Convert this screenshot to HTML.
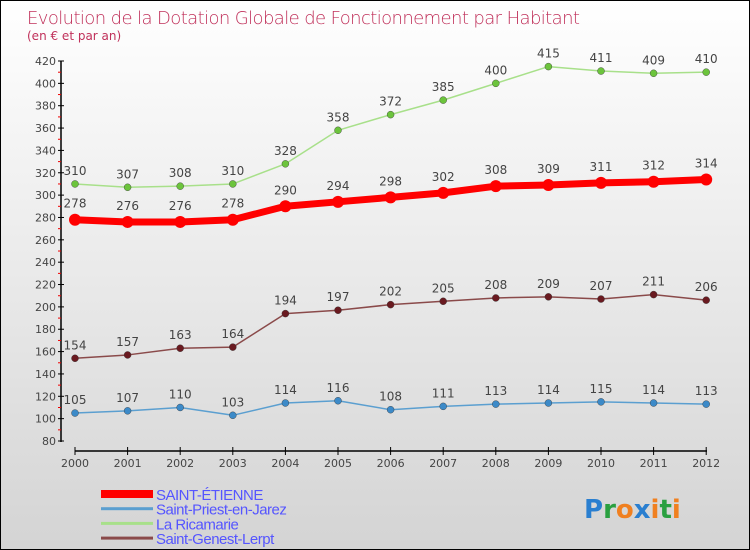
<!DOCTYPE html>
<html><head><meta charset="utf-8"><style>
body{margin:0}
#c{width:748px;height:548px;border:1px solid #000;background:linear-gradient(#fff,#d4d4d4);position:relative;overflow:hidden;font-family:"DejaVu Sans","Liberation Sans",sans-serif}
</style></head><body>
<div id="c">
<svg id="s" width="748" height="548">
<text x="26" y="23" font-size="18" fill="#c0305a" style="font-family:'DejaVu Sans',sans-serif;font-weight:200;letter-spacing:-0.6px">Evolution de la Dotation Globale de Fonctionnement par Habitant</text>
<text x="26" y="39" font-size="12" fill="#c0305a">(en € et par an)</text>
</svg>
</div>
<script>
const years=["2000","2001","2002","2003","2004","2005","2006","2007","2008","2009","2010","2011","2012"];
const yTicks=[80,100,120,140,160,180,200,220,240,260,280,300,320,340,360,380,400,420];
const stEtienne=[278,276,276,278,290,294,298,302,308,309,311,312,314];
const stPriest=[105,107,110,103,114,116,108,111,113,114,115,114,113];
const ricamarie=[310,307,308,310,328,358,372,385,400,415,411,409,410];
const stGenest=[154,157,163,164,194,197,202,205,208,209,207,211,206];
const series=[
 {name:"SAINT-ÉTIENNE",v:stEtienne,c:"#ff0000",w:7,r:6,key:"saint-etienne"},
 {name:"Saint-Priest-en-Jarez",v:stPriest,c:"#5b9fd0",w:1.5,r:3.5,key:"saint-priest-en-jarez",mc:"#3c8ac8"},
 {name:"La Ricamarie",v:ricamarie,c:"#a8e08a",w:1.5,r:3.5,key:"la-ricamarie",mc:"#6cc43c"},
 {name:"Saint-Genest-Lerpt",v:stGenest,c:"#8a4a4a",w:1.5,r:3.5,key:"saint-genest-lerpt",mc:"#6a1a20"}];
const NS="http://www.w3.org/2000/svg",s=document.getElementById('s');
const X=i=>74+i*52.6, Y=v=>440-(v-80)*380/340;
function el(t,a,p){const e=document.createElementNS(NS,t);for(const k in a)e.setAttribute(k,a[k]);(p||s).appendChild(e);return e;}
let ax=el('line',{x1:60,y1:Y(420),x2:60,y2:441,stroke:'#000','stroke-width':1.5});

yTicks.forEach(t=>{const y=Y(t);
 el('line',{x1:57,x2:63,y1:y,y2:y,stroke:'#000'});
 if(t>80)el('line',{x1:57,x2:60,y1:y+11.2,y2:y+11.2,stroke:'#e00'});
 const tx=el('text',{x:55,y:y+4,'font-size':11,fill:'#444','text-anchor':'end'});tx.textContent=t;
 });
let xa=el('line',{x1:74,y1:450,x2:706,y2:450,stroke:'#000','stroke-width':1.5});

years.forEach((yr,i)=>{el('line',{x1:X(i),x2:X(i),y1:446,y2:454,stroke:'#000'});
 const tx=el('text',{x:X(i),y:466,'font-size':11,fill:'#444','text-anchor':'middle'});tx.textContent=yr;
 });
[series[3],series[1],series[2],series[0]].forEach(sr=>{
 const g=el('g',{});
 el('polyline',{points:sr.v.map((v,i)=>X(i)+','+Y(v)).join(' '),fill:'none',stroke:sr.c,'stroke-width':sr.w,'stroke-linejoin':'round'},g);
 sr.v.forEach((v,i)=>{const c=el('circle',{cx:X(i),cy:Y(v),r:sr.r,fill:sr.mc||sr.c,stroke:sr.mc?'#333':'none','stroke-width':0.4},g);
  
  const t=el('text',{x:X(i),y:Y(v)-(sr.w>3?12:9),'font-size':12,fill:'#444','text-anchor':'middle'},g);t.textContent=v;
  });});
series.forEach((sr,i)=>{const y=493+i*14.7;
 const g=el('g',{});
 el('rect',{x:100,y:y-(i==0?4:1.5),width:52,height:i==0?8:3,fill:sr.c},g);
 const t=el('text',{x:155,y:y+6,'font-size':15,fill:'#5555ff',style:"font-family:'Liberation Sans',sans-serif;letter-spacing:-0.5px"},g);t.textContent=sr.name;});
const logo=el('text',{x:583,y:517,'font-size':26,'font-weight':'bold',style:"font-family:'DejaVu Sans',sans-serif"});

[["P","#2a7fd0"],["r","#2aa040"],["o","#f08020"],["x","#2a7fd0"],["i","#f08020"],["t","#2aa040"],["i","#f08020"]].forEach(([ch,c])=>{const ts=el('tspan',{fill:c},logo);ts.textContent=ch;});
</script>
</body></html>
